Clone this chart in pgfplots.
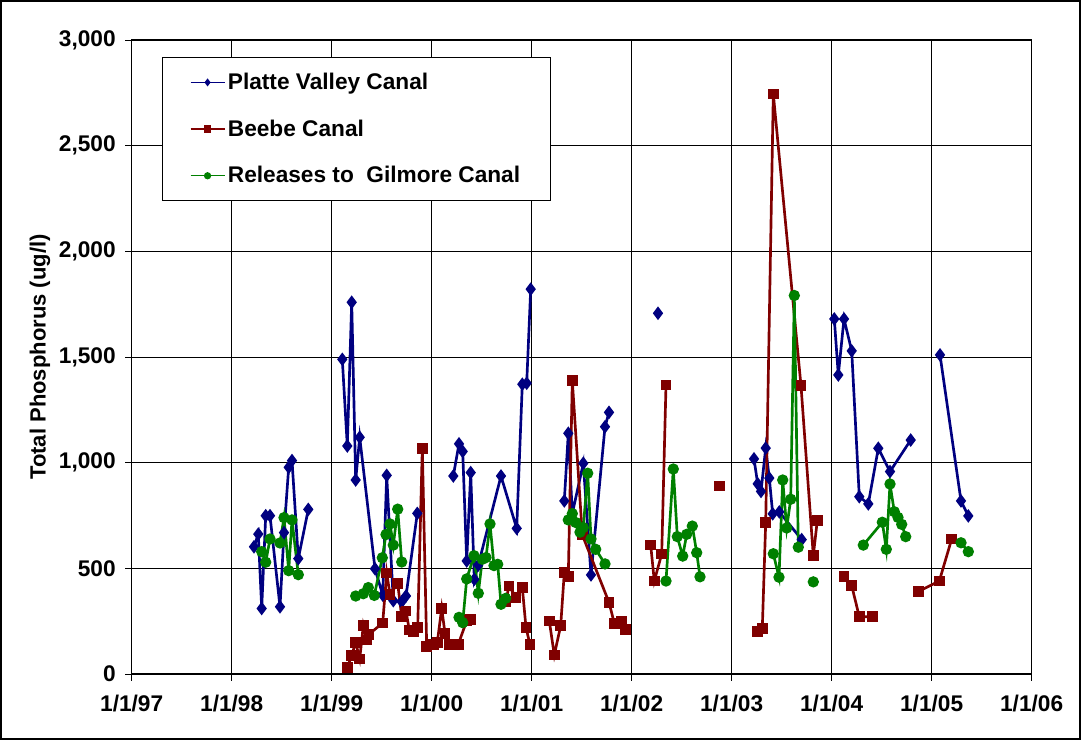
\documentclass[border=0pt]{standalone}
\usepackage{fontspec}
\setmainfont{Liberation Sans}
\usepackage{pgfplots}
\pgfplotsset{compat=1.18}

\definecolor{pvc}{RGB}{0,0,128}
\definecolor{bbc}{RGB}{128,0,0}
\definecolor{gmc}{RGB}{0,128,0}

\begin{document}
\begin{tikzpicture}
\useasboundingbox (-98.775pt,-49.5pt) rectangle (711.975pt,505.5pt);
\begin{axis}[
    scale only axis,
    width=675pt, height=475.5pt,
    xmin=1997, xmax=2006, ymin=0, ymax=3000,
    xtick={1997,...,2006},
    xticklabels={1/1/97,1/1/98,1/1/99,1/1/00,1/1/01,1/1/02,1/1/03,1/1/04,1/1/05,1/1/06},
    ytick={0,500,...,3000},
    yticklabels={0,500,{1,000},{1,500},{2,000},{2,500},{3,000}},
    xtick pos=left, ytick pos=left,
    tick align=outside, major tick length=5pt,
    tick style={black, line width=0.7pt},
    grid=major, major grid style={black, line width=0.7pt},
    axis line style={black, line width=0.8pt},
    ticklabel style={font=\bfseries\fontsize{17}{20}\selectfont},
    x tick label style={yshift=-7pt},
    y tick label style={xshift=-3.5pt},
    ylabel={Total Phosphorus (ug/l)},
    ylabel style={font=\bfseries\fontsize{16.5}{19}\selectfont,
      at={(axis description cs:-0.102,0.5)}, anchor=center},
    unbounded coords=jump,
    every axis plot/.append style={line width=2pt},
    legend cell align=left,
    legend image code/.code={\draw[mark repeat=2,mark phase=2,#1,line width=1pt,mark size=2.2pt]
      plot coordinates {(0pt,0pt) (12.75pt,0pt) (25.5pt,0pt)};},
    legend style={at={(axis description cs:0.0337,0.9727)}, anchor=north west,
      draw=black, line width=0.8pt, fill=white,
      font=\bfseries\fontsize{17}{20}\selectfont,
      inner xsep=20.5pt, inner ysep=9.5pt, row sep=17.2pt},
  ]
\addplot[pvc, mark=diamond*, mark size=3.5pt, mark options={solid}] coordinates {
 (1998.223,602) (1998.266,662) (1998.300,310) (1998.340,749) (1998.383,749) (1998.483,318)
 (1998.523,669) (1998.570,978) (1998.603,1010) (1998.666,546) (1998.766,779)
 (1999,nan)
 (1999.106,1489) (1999.156,1079) (1999.200,1759) (1999.240,918) (1999.280,1120) (1999.433,498)
 (1999.510,374) (1999.550,940) (1999.616,347) (1999.700,342) (1999.743,369) (1999.856,760)
 (2000,nan)
 (2000.216,937) (2000.273,1089) (2000.310,1053) (2000.350,535) (2000.390,953) (2000.426,448)
 (2000.466,516) (2000.693,937) (2000.850,689) (2000.906,1371) (2000.950,1376) (2000.990,1821)
 (2001.1,nan)
 (2001.326,819) (2001.366,1139) (2001.406,759) (2001.516,997) (2001.593,469) (2001.733,1170) (2001.773,1238)
 (2002,nan)
 (2002.263,1707)
 (2003,nan)
 (2003.223,1018) (2003.260,900) (2003.293,864) (2003.340,1069) (2003.376,927) (2003.410,758)
 (2003.476,767) (2003.700,636)
 (2003.9,nan)
 (2004.026,1680) (2004.066,1415) (2004.123,1680) (2004.200,1529) (2004.276,839) (2004.366,805)
 (2004.466,1068) (2004.583,958) (2004.790,1107)
 (2004.9,nan)
 (2005.083,1510) (2005.293,819) (2005.366,748)
};
\addlegendentry{Platte Valley Canal}
\addplot[bbc, mark=square*, mark size=3pt, mark options={solid}] coordinates {
 (1999.156,30) (1999.200,88) (1999.240,150) (1999.280,71) (1999.316,229) (1999.350,161)
 (1999.373,188) (1999.510,242) (1999.550,478) (1999.583,376) (1999.660,429) (1999.700,271)
 (1999.743,298) (1999.776,208) (1999.816,202) (1999.860,220) (1999.906,1068) (1999.950,129)
 (2000.016,140) (2000.056,150) (2000.100,311) (2000.133,192) (2000.176,141) (2000.266,141)
 (2000.350,252) (2000.390,259)
 (2000.5,nan)
 (2000.740,342) (2000.773,416) (2000.843,363) (2000.906,410) (2000.943,219) (2000.983,140)
 (2001.1,nan)
 (2001.176,251) (2001.226,90) (2001.290,229) (2001.326,480) (2001.366,461) (2001.406,1388)
 (2001.506,658) (2001.773,339) (2001.826,240) (2001.900,251) (2001.940,211)
 (2002,nan)
 (2002.190,610) (2002.226,440) (2002.300,568) (2002.343,1368)
 (2002.5,nan)
 (2002.876,890)
 (2003,nan)
 (2003.260,200) (2003.306,215) (2003.340,718) (2003.416,2745) (2003.693,1364) (2003.816,560) (2003.856,727)
 (2003.95,nan)
 (2004.123,461) (2004.200,418) (2004.276,271) (2004.410,271)
 (2004.6,nan)
 (2004.866,390) (2005.076,440) (2005.200,639)
};
\addlegendentry{Beebe Canal}
\addplot[gmc, mark=*, mark size=3.2pt, mark options={solid}] coordinates {
 (1998.300,579) (1998.340,529) (1998.383,639) (1998.483,620) (1998.523,740) (1998.570,489)
 (1998.603,729) (1998.666,470)
 (1999,nan)
 (1999.240,369) (1999.316,380) (1999.366,409) (1999.426,372) (1999.506,550) (1999.543,660)
 (1999.583,710) (1999.616,610) (1999.660,780) (1999.700,530)
 (2000,nan)
 (2000.273,268) (2000.310,243) (2000.350,450) (2000.423,560) (2000.466,382) (2000.506,543)
 (2000.543,551) (2000.583,710) (2000.623,513) (2000.660,519) (2000.693,330) (2000.740,358)
 (2001,nan)
 (2001.366,729) (2001.406,759) (2001.440,717) (2001.483,671) (2001.516,693) (2001.560,950)
 (2001.593,639) (2001.640,590) (2001.733,521)
 (2002,nan)
 (2002.343,440) (2002.416,970) (2002.456,650) (2002.510,558) (2002.550,661) (2002.606,700)
 (2002.650,574) (2002.683,460)
 (2003,nan)
 (2003.416,569) (2003.473,458) (2003.510,918) (2003.550,691) (2003.590,827) (2003.626,1791) (2003.666,600)
 (2003.75,nan)
 (2003.816,436)
 (2004,nan)
 (2004.316,610) (2004.506,718) (2004.546,590) (2004.583,899) (2004.626,768) (2004.663,741)
 (2004.700,708) (2004.740,650)
 (2005,nan)
 (2005.293,621) (2005.366,579)
};
\addlegendentry{Releases to\ \ Gilmore Canal}
\end{axis}
\draw[line width=1.5pt] (-98.025pt,-48.75pt) rectangle (711.225pt,504.75pt);
\end{tikzpicture}
\end{document}
